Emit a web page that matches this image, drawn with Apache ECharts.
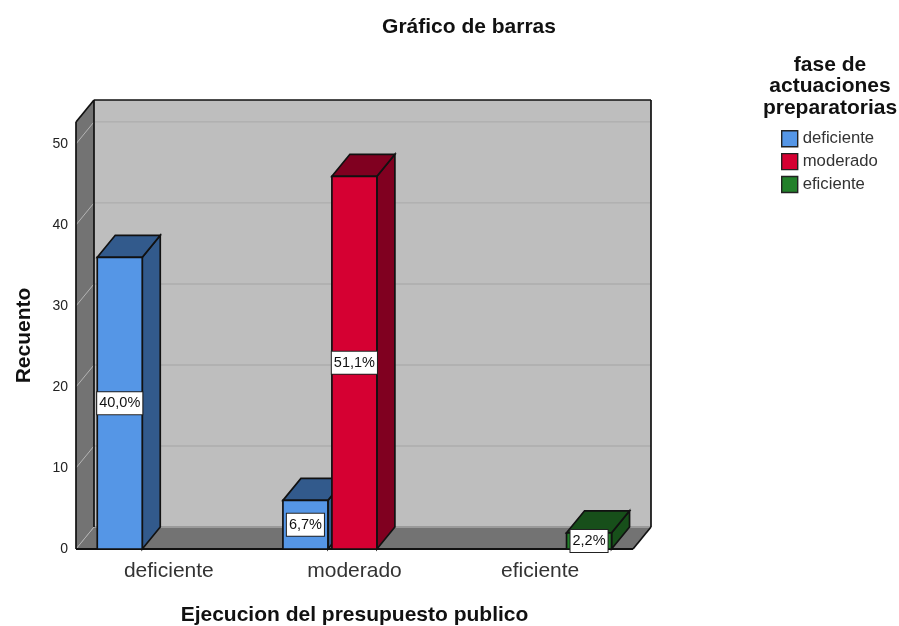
<!DOCTYPE html>
<html><head><meta charset="utf-8">
<style>html,body{margin:0;padding:0;background:#fff}#c{width:899px;height:626px}</style>
<script src="https://cdn.jsdelivr.net/npm/echarts@6/dist/echarts.min.js"></script>
</head><body><div id="c"></div>
<script>
const categories = ['deficiente','moderado','eficiente'];
const legendTitle = 'fase de\nactuaciones\npreparatorias';
const yTicks = [0,10,20,30,40,50];
const valuesDeficiente = [36,6,null];
const valuesModerado = [null,46,null];
const valuesEficiente = [null,null,2];
const labelsDeficiente = ['40,0%','6,7%',null];
const labelsModerado = [null,'51,1%',null];
const labelsEficiente = [null,null,'2,2%'];

const DX = 18, DY = -22;
const FONT = '"Liberation Sans", Arial, sans-serif';
const poly = (pts, fill, stroke, lw) => ({type:'polygon', shape:{points:pts}, style:{fill, stroke, lineWidth:lw===undefined?1.7:lw}});
const seg = (a,b,stroke,lw) => ({type:'line', shape:{x1:a[0],y1:a[1],x2:b[0],y2:b[1]}, style:{stroke, lineWidth:lw}});

function renderWalls(params, api){
  const g = params.coordSys;
  const L=g.x, R=g.x+g.width, T=g.y, B=g.y+g.height;
  const ch = [];
  ch.push(poly([[L+DX,T+DY],[R+DX,T+DY],[R+DX,B+DY],[L+DX,B+DY]],'#bebebe','none',0));
  ch.push(poly([[L,B],[L+DX,B+DY],[L+DX,T+DY],[L,T]],'#737373','none',0));
  ch.push(poly([[L,B],[L+DX,B+DY],[R+DX,B+DY],[R,B]],'#737373','none',0));
  yTicks.forEach(t=>{
    const y = api.coord([0,t])[1];
    if(t>0) ch.push(seg([L+DX,y+DY],[R+DX,y+DY],'#adadad',1.4));
    ch.push(seg([L,y],[L+DX,y+DY],'#b4b4b4',1));
  });
  ch.push(seg([L+DX,B+DY],[R+DX,B+DY],'#9a9a9a',2));
  ch.push(seg([L,T],[L+DX,T+DY],'#111',1.7));
  ch.push(seg([L+DX,T+DY],[R+DX,T+DY],'#111',1.7));
  ch.push(seg([R+DX,T+DY],[R+DX,B+DY],'#111',1.7));
  ch.push(seg([L+DX,T+DY],[L+DX,B+DY],'#111',1.7));
  ch.push(seg([L,T],[L,B],'#111',1.7));
  ch.push(seg([L,B],[R,B],'#111',1.8));
  ch.push(seg([R,B],[R+DX,B+DY],'#111',1.7));
  return {type:'group', children:ch};
}

function barRenderer(slot, front, dark, labels){
  return function(params, api){
    const v = api.value(1);
    if (isNaN(v)) return;
    const i = api.value(0);
    const band = api.size([1,0])[0];
    const w = band*0.2423, gap = band*0.0215;
    const x0 = api.coord([i,0])[0] - band/2 + band*0.1145 + slot*(w+gap);
    const x1 = x0+w;
    const y0 = api.coord([i,0])[1], y1 = api.coord([i,v])[1];
    return {type:'group', children:[
      poly([[x1,y0],[x1+DX,y0+DY],[x1+DX,y1+DY],[x1,y1]],dark,'#111'),
      poly([[x0,y1],[x0+DX,y1+DY],[x1+DX,y1+DY],[x1,y1]],dark,'#111'),
      poly([[x0,y0],[x1,y0],[x1,y1],[x0,y1]],front,'#111'),
      {type:'text', z2:20, style:{text:labels[i], x:(x0+x1)/2, y:(y0+y1)/2, align:'center', verticalAlign:'middle',
        font:'14.5px '+FONT, fill:'#111', backgroundColor:'#fff', borderColor:'#222', borderWidth:1, padding:[4,2,3,2]}}
    ]};
  };
}
const toData = arr => categories.map((c,i)=>[i, arr[i]===null?NaN:arr[i]]);
const barSeries = (name, slot, vals, labels, front, dark) => ({
  type:'custom', name, coordinateSystem:'cartesian2d', clip:false, z:3+slot,
  encode:{x:0,y:1}, itemStyle:{color:front}, data:toData(vals),
  renderItem:barRenderer(slot,front,dark,labels)
});

const chart = echarts.init(document.getElementById('c'), null, {renderer:'canvas'});
chart.setOption({
  animation:false,
  backgroundColor:'#fff',
  title:[
    {text:'Gráfico de barras', left:464, top:12, textAlign:'center', textStyle:{fontFamily:FONT,fontSize:21,fontWeight:'bold',color:'#111'}},
    {text:legendTitle, left:825, top:49, textAlign:'center', textStyle:{fontFamily:FONT,fontSize:21,fontWeight:'bold',color:'#111',lineHeight:21.5}}
  ],
  legend:{orient:'vertical', left:776, top:125, itemWidth:16, itemHeight:16, itemGap:5.5, itemStyle:{borderColor:'#222',borderWidth:1.4},
    icon:'rect',
    textStyle:{fontFamily:FONT,fontSize:16.7,color:'#333',padding:[3,0,0,0]},
    data:['deficiente','moderado','eficiente']},
  grid:{left:76,right:266,top:122,bottom:77,outerBoundsMode:'none'},
  xAxis:{type:'category',data:categories,
    axisLine:{show:false},axisTick:{show:false},splitLine:{show:false},
    axisLabel:{fontFamily:FONT,fontSize:21,color:'#333',margin:12},
    name:'Ejecucion del presupuesto publico',nameLocation:'middle',nameGap:56,
    nameTextStyle:{fontFamily:FONT,fontSize:21,fontWeight:'bold',color:'#111'}},
  yAxis:{type:'value',min:0,max:52.7,interval:10,
    axisLine:{show:false},axisTick:{show:false},splitLine:{show:false},
    axisLabel:{fontFamily:FONT,fontSize:14,color:'#222',margin:8,showMaxLabel:false,padding:[2,0,0,0]},
    name:'Recuento',nameLocation:'middle',nameGap:41,
    nameTextStyle:{fontFamily:FONT,fontSize:21,fontWeight:'bold',color:'#111'}},
  series:[
    {type:'custom',name:'paredes',coordinateSystem:'cartesian2d',clip:false,z:1,silent:true,
     encode:{x:0,y:1},data:[[0,0]],renderItem:renderWalls},
    barSeries('deficiente',0,valuesDeficiente,labelsDeficiente,'#5596e6','#325a8c'),
    barSeries('moderado',1,valuesModerado,labelsModerado,'#d50032','#800020'),
    barSeries('eficiente',2,valuesEficiente,labelsEficiente,'#22802a','#174f1a')
  ]
});
</script></body></html>
